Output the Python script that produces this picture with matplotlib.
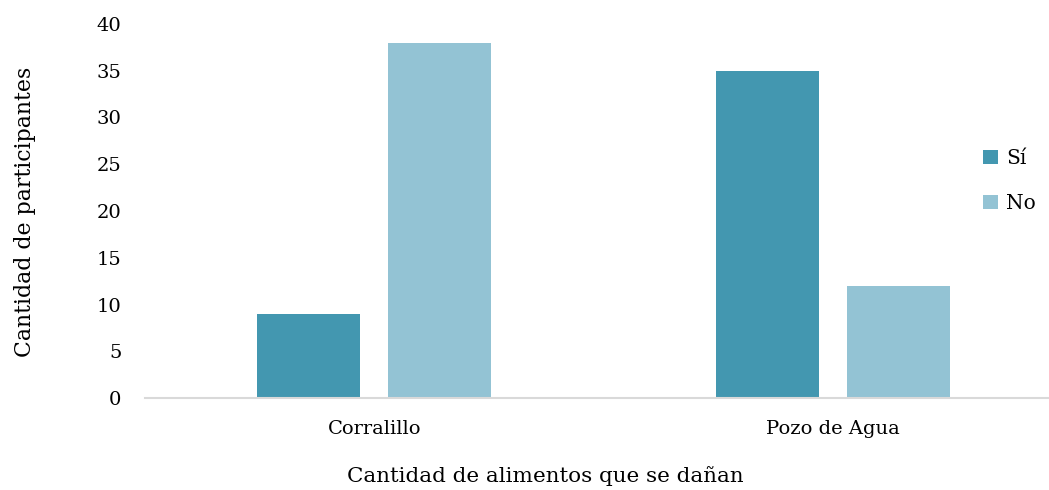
import matplotlib.pyplot as plt
import numpy as np

lugares = ["Corralillo", "Pozo de Agua"]
si = [9, 35]
no = [38, 12]

COLOR_SI = "#4397B0"
COLOR_NO = "#93C3D4"

plt.rcParams["font.family"] = ["DejaVu Serif"]

fig = plt.figure(figsize=(10.49, 4.9), dpi=100)
ax = fig.add_axes([145 / 1049, 92 / 490, 917 / 1049, 374 / 490])

x = np.arange(len(lugares))
w = 0.2246
off = 0.1429
ax.bar(x - off, si, width=w, color=COLOR_SI, label="Sí")
ax.bar(x + off, no, width=w, color=COLOR_NO, label="No")

ax.set_xlim(-0.5, 1.5)
ax.set_ylim(0, 40)
ax.set_yticks(range(0, 41, 5))
ax.set_xticks(x)
ax.set_xticklabels(lugares)
ax.tick_params(axis="y", length=0, pad=17, labelsize=14)
ax.tick_params(axis="x", length=0, pad=16, labelsize=14)

for s in ["top", "right", "left"]:
    ax.spines[s].set_visible(False)
ax.spines["bottom"].set_color("#D9D9D9")
ax.spines["bottom"].set_linewidth(1.5)

fig.text(25 / 1049, 1 - 212 / 490, "Cantidad de participantes", rotation=90,
         ha="center", va="center", fontsize=15.8)
fig.text(545 / 1049, 1 - 476 / 490, "Cantidad de alimentos que se dañan",
         ha="center", va="center", fontsize=15.4)

fig.legend(loc="center left", bbox_to_anchor=(965 / 1049, 1 - 181 / 490),
           frameon=False, fontsize=14.5, handlelength=0.75, handleheight=0.75,
           labelspacing=1.3, handletextpad=0.4)

fig.savefig("out.png", dpi=100)
